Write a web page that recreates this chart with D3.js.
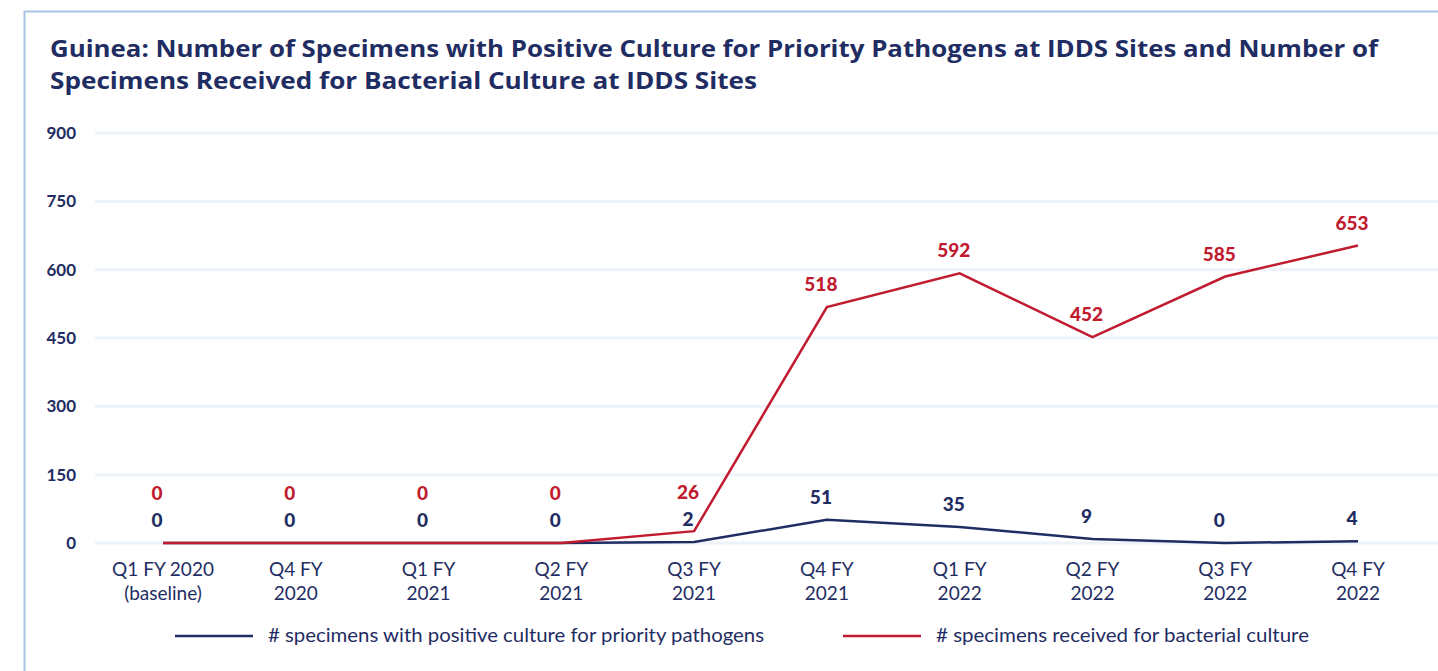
<!DOCTYPE html>
<html>
<head>
<meta charset="utf-8">
<script src="https://cdn.jsdelivr.net/npm/d3@7"></script>
<style>
  body { margin: 0; background: #fff; }
  svg { display: block; font-family: Lato, "Open Sans", sans-serif; }
</style>
</head>
<body>
<div id="chart"></div>
<script>
// categories on the x axis (two lines each)
var quarters = [
  ["Q1 FY 2020", "(baseline)"],
  ["Q4 FY", "2020"],
  ["Q1 FY", "2021"],
  ["Q2 FY", "2021"],
  ["Q3 FY", "2021"],
  ["Q4 FY", "2021"],
  ["Q1 FY", "2022"],
  ["Q2 FY", "2022"],
  ["Q3 FY", "2022"],
  ["Q4 FY", "2022"]
]

// series
var positiveCulture = [0, 0, 0, 0, 2, 51, 35, 9, 0, 4]
var receivedCulture = [0, 0, 0, 0, 26, 518, 592, 452, 585, 653]

var yTicks = [0, 150, 300, 450, 600, 750, 900]

var seriesNames = [
  "# specimens with positive culture for priority pathogens",
  "# specimens received for bacterial culture"
]

var navy = "#1f2d63",
    red = "#c11b2f"

var width = 1438, height = 671

var svg = d3.select("#chart").append("svg")
  .attr("width", width)
  .attr("height", height)

// frame (top + left border)
svg.append("path")
  .attr("d", "M24.5," + height + "V11.5H" + width)
  .attr("fill", "none")
  .attr("stroke", "#a9c4e4")
  .attr("stroke-width", 2)

// title
var title = svg.append("text")
  .attr("fill", navy)
  .style("font-family", "'Open Sans', sans-serif")
  .style("font-weight", "bold")
  .style("font-size", "24px")
title.append("tspan").attr("x", 50).attr("y", 57)
  .attr("textLength", 1328).attr("lengthAdjust", "spacingAndGlyphs")
  .text("Guinea: Number of Specimens with Positive Culture for Priority Pathogens at IDDS Sites and Number of")
title.append("tspan").attr("x", 50).attr("y", 89)
  .attr("textLength", 707).attr("lengthAdjust", "spacingAndGlyphs")
  .text("Specimens Received for Bacterial Culture at IDDS Sites")

var idx = quarters.map(function(d, i){ return i })

var x = d3.scalePoint()
  .domain(idx)
  .range([163, 1358])

var y = d3.scaleLinear()
  .domain([0, 900])
  .range([543, 133])

// gridlines
svg.append("g")
  .selectAll("line")
  .data(yTicks)
  .enter().append("line")
  .attr("x1", 95)
  .attr("x2", width)
  .attr("y1", function(d){ return y(d) })
  .attr("y2", function(d){ return y(d) })
  .attr("stroke", "#eef3fa")
  .attr("stroke-width", 3)

// y axis labels
var yAxis = svg.append("g")
  .attr("transform", "translate(76,0)")
  .call(d3.axisLeft(y).tickValues(yTicks).tickSize(0).tickPadding(0))
yAxis.select(".domain").remove()
yAxis.selectAll("text")
  .attr("fill", navy)
  .style("font-family", "Lato, sans-serif")
  .style("font-weight", "bold")
  .style("font-size", "17px")

// x axis labels
var xl = svg.append("g")
  .selectAll("text")
  .data(quarters)
  .enter().append("text")
  .attr("text-anchor", "middle")
  .attr("fill", navy)
  .style("font-size", "19px")
xl.each(function(d, i){
  var t = d3.select(this)
  t.append("tspan").attr("x", x(i)).attr("y", 576).text(d[0])
  t.append("tspan").attr("x", x(i)).attr("y", 600).text(d[1])
})

var line = d3.line()
  .x(function(d, i){ return x(i) })
  .y(function(d){ return y(d) })

svg.append("path")
  .datum(positiveCulture)
  .attr("d", line)
  .attr("fill", "none")
  .attr("stroke", navy)
  .attr("stroke-width", 2.5)

svg.append("path")
  .datum(receivedCulture)
  .attr("d", line)
  .attr("fill", "none")
  .attr("stroke", red)
  .attr("stroke-width", 2.5)

// data labels
svg.append("g")
  .selectAll("text")
  .data(positiveCulture)
  .enter().append("text")
  .attr("x", function(d, i){ return x(i) - 6 })
  .attr("y", function(d){ return y(d) - 16 })
  .attr("text-anchor", "middle")
  .attr("fill", navy)
  .style("font-weight", "900")
  .style("font-size", "19px")
  .text(function(d){ return d })

svg.append("g")
  .selectAll("text")
  .data(receivedCulture)
  .enter().append("text")
  .attr("x", function(d, i){ return x(i) - 6 })
  .attr("y", function(d, i){
    return Math.min(y(d) - 16, y(positiveCulture[i]) - 43)
  })
  .attr("text-anchor", "middle")
  .attr("fill", red)
  .style("font-weight", "900")
  .style("font-size", "19px")
  .text(function(d){ return d })

// legend
var legend = svg.append("g")
  .selectAll("g")
  .data(seriesNames)
  .enter().append("g")
  .attr("transform", function(d, i){ return "translate(" + [175, 843][i] + ",636)" })
legend.append("line")
  .attr("x1", 0).attr("x2", 78)
  .attr("stroke", function(d, i){ return i ? red : navy })
  .attr("stroke-width", 2.5)
legend.append("text")
  .attr("x", 93)
  .attr("y", 6)
  .attr("fill", navy)
  .attr("textLength", function(d, i){ return [496, 373][i] })
  .attr("lengthAdjust", "spacingAndGlyphs")
  .style("font-size", "19px")
  .text(function(d){ return d })
</script>
</body>
</html>
